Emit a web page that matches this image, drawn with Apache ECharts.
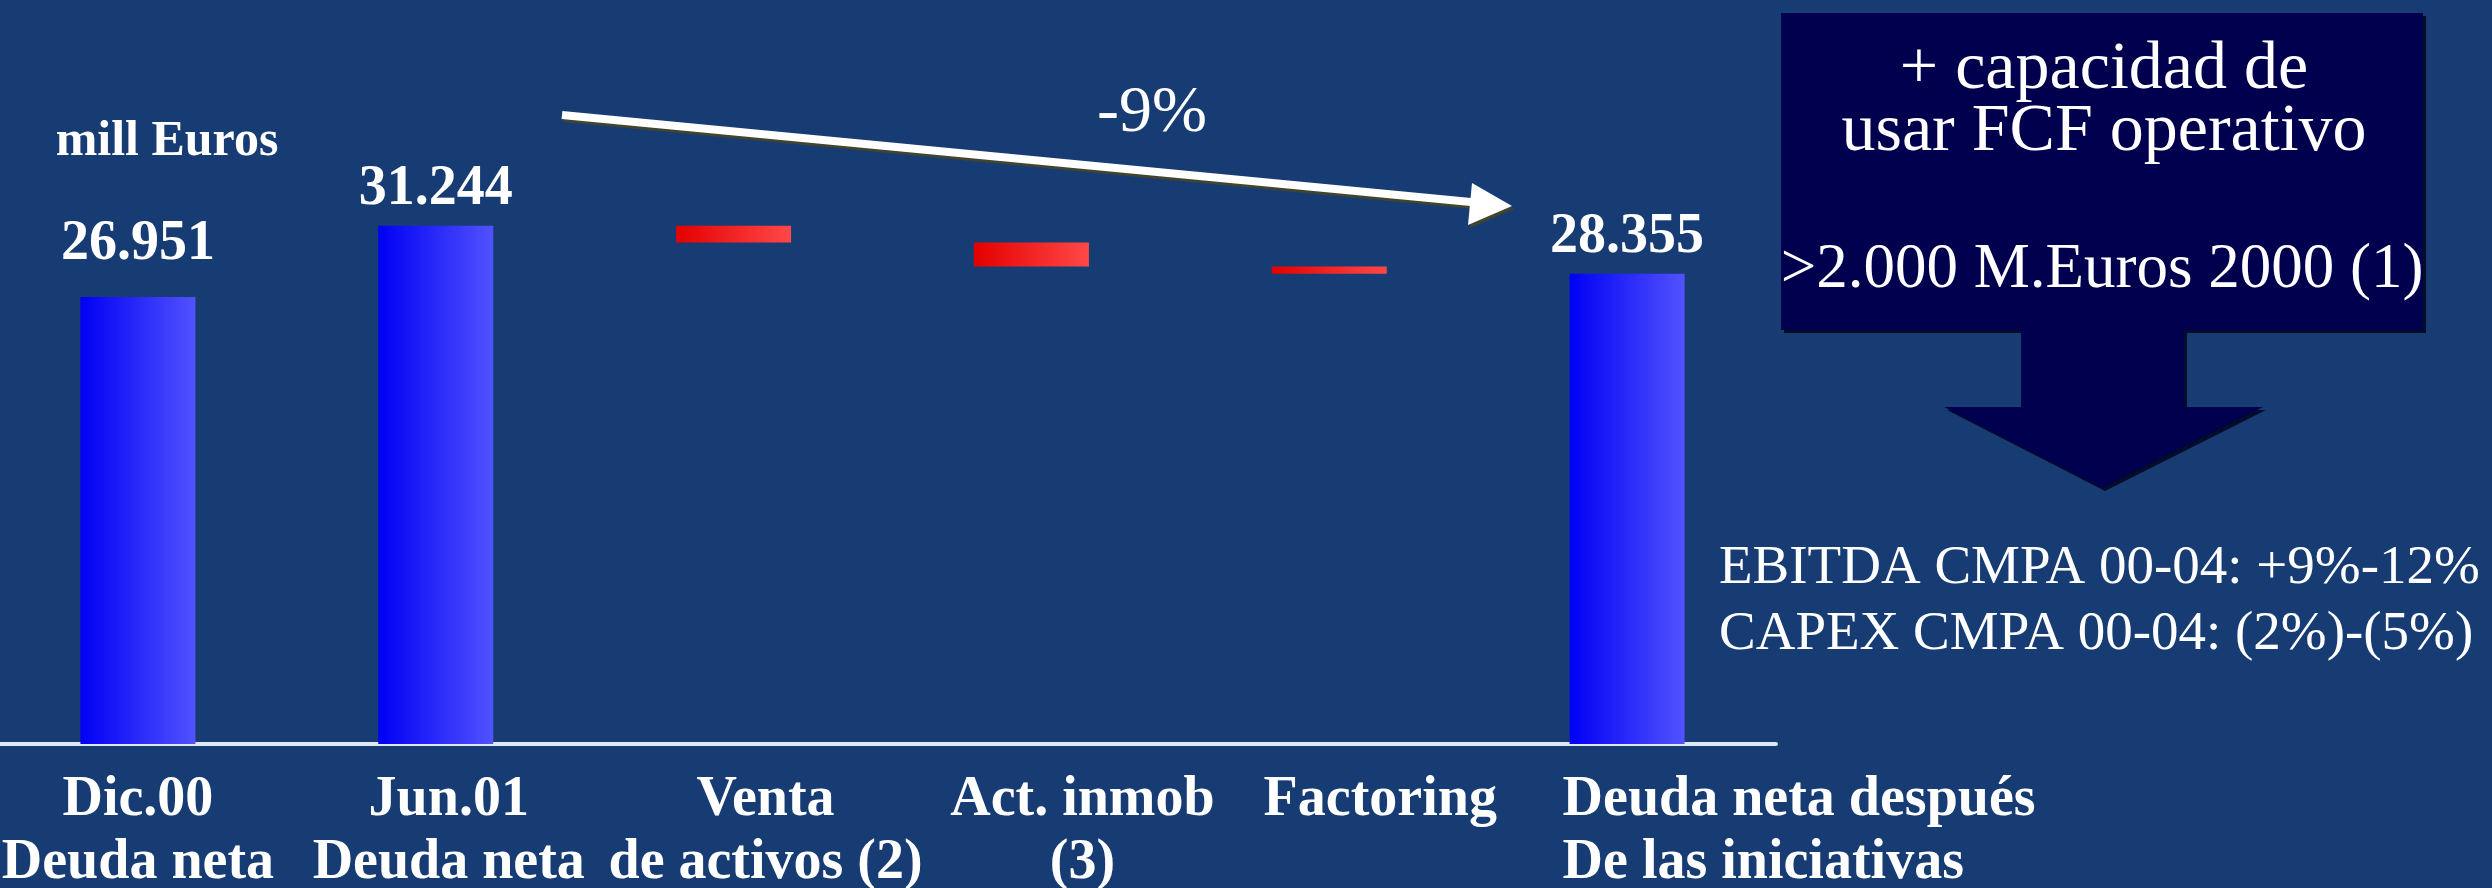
<!DOCTYPE html>
<html>
<head>
<meta charset="utf-8">
<script src="https://cdn.jsdelivr.net/npm/echarts@6/dist/echarts.min.js"></script>
<style>
html, body { margin: 0; padding: 0; background: #173c74; }
#main { width: 2492px; height: 888px; }
</style>
</head>
<body>
<div id="main"></div>
<script>
// categorias del eje X
var categories = ['Dic.00\nDeuda neta', 'Jun.01\nDeuda neta', 'Venta\nde activos (2)', 'Act. inmob\n(3)', 'Factoring', 'Deuda neta después\nDe las iniciativas'];
// deuda neta total (mill Euros), '-' = no es total
var totals = [26951, 31244, '-', '-', '-', 28355];
// reducciones de las iniciativas
var changes = ['-', '-', -1000, -1450, -439, '-'];

var serif = '"Liberation Serif", "Times New Roman", serif';

var blueGrad = new echarts.graphic.LinearGradient(0, 0, 1, 0, [
	{ offset: 0, color: '#0000f4' }, { offset: 1, color: '#5252ff' }
]);
var redGrad = new echarts.graphic.LinearGradient(0, 0, 1, 0, [
	{ offset: 0, color: '#e40000' }, { offset: 1, color: '#ff4848' }
]);

// base invisible + altura de cada barra (cascada)
var baseData = [];
var barData = [];
var running = 0;
for (var i = 0; i < categories.length; i++) {
	if (totals[i] !== '-') {
		running = totals[i];
		baseData.push(0);
		barData.push({
			value: totals[i],
			itemStyle: { color: blueGrad },
			label: { show: true, distance: i == 0 ? 24 : 8 }
		});
	} else {
		running = running + changes[i];
		baseData.push(running);
		barData.push({ value: -changes[i], itemStyle: { color: redGrad } });
	}
}

// desplazamiento de las etiquetas del eje
var labelShift = [0, 13, 32, 51, 51, 172];
var axisData = categories.map(function(c, i) {
	return { value: c, textStyle: { padding: [0, 0, 0, labelShift[i] * 2] } };
});

function fmt(v) {
	return String(v).replace(/\B(?=(\d{3})+(?!\d))/g, '.');
}

var dom = document.getElementById('main');
var myChart = echarts.init(dom);

var option = {
	backgroundColor: '#173c74',
	animation: false,
	grid: { left: -11, right: 716, top: 0, bottom: 144, containLabel: false, outerBoundsMode: 'none' },
	xAxis: {
		type: 'category',
		data: axisData,
		axisTick: { show: false },
		axisLine: { show: true, lineStyle: { color: '#e2e6f0', width: 4 } },
		axisLabel: {
			interval: 0,
			margin: 25,
			color: '#ffffff',
			fontFamily: serif,
			fontWeight: 'bold',
			fontSize: 56,
			lineHeight: 63,
			formatter: function(value, idx) {
				if (idx == categories.length - 1) {
					// ultima etiqueta alineada a la izquierda
					return value.split('\n').map(function(s) { return '{l|' + s + '}'; }).join('\n');
				}
				return value;
			},
			rich: {
				l: { align: 'left', color: '#ffffff', fontFamily: serif, fontWeight: 'bold', fontSize: 56, lineHeight: 63 }
			}
		}
	},
	yAxis: {
		type: 'value',
		min: 0,
		max: 44860,
		show: false,
		splitLine: { show: false }
	},
	series: [{
		type: 'bar',
		stack: 'w',
		data: baseData,
		barWidth: 115,
		itemStyle: { color: 'transparent' },
		silent: true
	}, {
		type: 'bar',
		stack: 'w',
		data: barData,
		barWidth: 115,
		label: {
			show: false,
			position: 'top',
			color: '#ffffff',
			fontFamily: serif,
			fontWeight: 'bold',
			fontSize: 56,
			formatter: function(p) { return fmt(p.value); }
		}
	}],
	graphic: [
		// flecha blanca -9%
		{
			type: 'line', z: 10,
			shape: { x1: 562, y1: 115, x2: 1476, y2: 202.5 },
			style: { stroke: '#ffffff', lineWidth: 8, shadowColor: 'rgba(70,70,40,0.9)', shadowOffsetX: 2, shadowOffsetY: 3 }
		},
		{
			type: 'polygon', z: 10,
			shape: { points: [[1512, 206], [1468, 225], [1472, 183]] },
			style: { fill: '#ffffff', shadowColor: 'rgba(70,70,40,0.9)', shadowOffsetX: 2, shadowOffsetY: 3 }
		},
		{
			type: 'text', z: 10, x: 1152, y: 114,
			style: { text: '-9%', fill: '#ffffff', font: '66px ' + serif, align: 'center', verticalAlign: 'middle' }
		},
		{
			type: 'text', z: 10, x: 167, y: 142,
			style: { text: 'mill Euros', fill: '#ffffff', font: 'bold 50px ' + serif, align: 'center', verticalAlign: 'middle' }
		},
		// caja con flecha hacia abajo
		{
			type: 'polygon', z: 5,
			shape: { points: [[1781, 13], [2423, 13], [2423, 330], [2184, 330], [2184, 407], [2263, 407], [2102, 488], [1944, 407], [2021, 407], [2021, 330], [1781, 330]] },
			style: { fill: '#00004e', shadowColor: 'rgba(0,0,20,0.8)', shadowOffsetX: 3, shadowOffsetY: 3 }
		},
		{
			type: 'text', z: 10, x: 2104, y: 70,
			style: { text: '+ capacidad de', fill: '#ffffff', font: '68px ' + serif, align: 'center', verticalAlign: 'middle' }
		},
		{
			type: 'text', z: 10, x: 2104, y: 132,
			style: { text: 'usar FCF operativo', fill: '#ffffff', font: '68px ' + serif, align: 'center', verticalAlign: 'middle' }
		},
		{
			type: 'text', z: 10, x: 2102, y: 270,
			style: { text: '>2.000 M.Euros 2000 (1)', fill: '#ffffff', font: '63px ' + serif, align: 'center', verticalAlign: 'middle' }
		},
		{
			type: 'text', z: 10, x: 1719, y: 569,
			style: { text: 'EBITDA CMPA 00-04: +9%-12%', fill: '#ffffff', font: '55px ' + serif, align: 'left', verticalAlign: 'middle' }
		},
		{
			type: 'text', z: 10, x: 1719, y: 635,
			style: { text: 'CAPEX CMPA 00-04: (2%)-(5%)', fill: '#ffffff', font: '55px ' + serif, align: 'left', verticalAlign: 'middle' }
		}
	]
};

myChart.setOption(option);

window.addEventListener('resize', function() {
	myChart.resize();
});
</script>
</body>
</html>
